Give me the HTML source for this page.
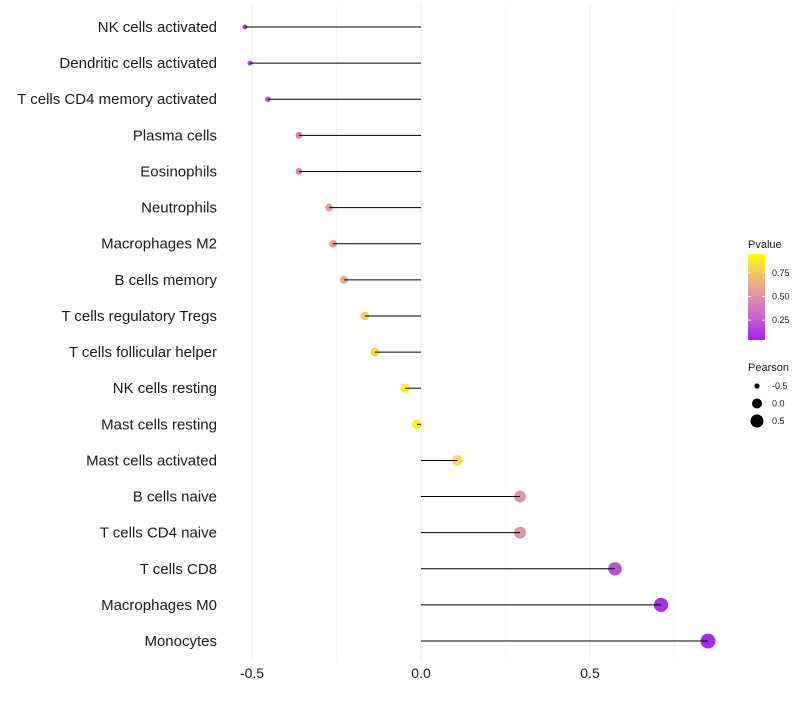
<!DOCTYPE html>
<html><head><meta charset="utf-8"><style>
body{margin:0;background:#fff;font-family:"Liberation Sans",sans-serif}
</style></head><body>
<svg id="chart" width="800" height="700" xmlns="http://www.w3.org/2000/svg"></svg>
<script>
const categories=["NK cells activated","Dendritic cells activated","T cells CD4 memory activated","Plasma cells","Eosinophils","Neutrophils","Macrophages M2","B cells memory","T cells regulatory  Tregs ","T cells follicular helper","NK cells resting","Mast cells resting","Mast cells activated","B cells naive","T cells CD4 naive","T cells CD8","Macrophages M0","Monocytes"];
const pearson=[-0.521,-0.506,-0.453,-0.361,-0.361,-0.272,-0.26,-0.228,-0.166,-0.136,-0.047,-0.012,0.107,0.293,0.293,0.574,0.71,0.849];
const pvalues=[0.12,0.14,0.25,0.45,0.45,0.58,0.58,0.65,0.8,0.85,0.97,0.98,0.87,0.52,0.52,0.18,0.06,0.03];
const xTicks=[-0.5,0,0.5];
const xTickLabels=["-0.5","0.0","0.5"];
const pTicks=[0.25,0.5,0.75];
const sizeLegend=[-0.5,0,0.5];
const NS="http://www.w3.org/2000/svg";
const svg=document.getElementById('chart');
const x=v=>421+v*338;
const y=i=>27+i*36.12;
const r=v=>Math.sqrt(Math.max(2,6+36*(v+0.52)));
const stops=[[0,[160,32,240]],[0.25,[200,96,208]],[0.5,[224,144,168]],[0.75,[240,192,112]],[1,[255,255,0]]];
function col(p){for(let k=1;k<stops.length;k++){if(p<=stops[k][0]){const a=stops[k-1],b=stops[k];const t=(p-a[0])/(b[0]-a[0]);const c=a[1].map((q,j)=>Math.round(q+(b[1][j]-q)*t));return `rgb(${c})`;}}return 'rgb(255,255,0)';}
function el(t,a,txt){const e=document.createElementNS(NS,t);for(const k in a)e.setAttribute(k,a[k]);if(txt!==undefined)e.textContent=txt;svg.appendChild(e);return e;}
[-0.25,0.25,0.75].forEach(v=>{const g=el('line',{x1:x(v),x2:x(v),y1:5,y2:660,stroke:'#f2f2f2','stroke-width':0.6});

});
xTicks.forEach((v,i)=>{const g=el('line',{x1:x(v),x2:x(v),y1:5,y2:660,stroke:'#ebebeb','stroke-width':1.1});


const t=el('text',{x:x(v),y:678,'text-anchor':'middle','font-size':14,fill:'#1a1a1a'},xTickLabels[i]);

});
categories.forEach((c,i)=>{
const t=el('text',{x:217,y:y(i)+5,'text-anchor':'end','font-size':15,fill:'#1a1a1a'},c);


const p=el('circle',{cx:x(pearson[i]),cy:y(i),r:r(pearson[i]),fill:col(pvalues[i])});


const l=el('line',{x1:x(0),x2:x(pearson[i]),y1:y(i),y2:y(i),stroke:'#000','stroke-width':1});


});
const defs=el('defs',{});const lg=document.createElementNS(NS,'linearGradient');lg.setAttribute('id','pg');lg.setAttribute('x1',0);lg.setAttribute('y1',1);lg.setAttribute('x2',0);lg.setAttribute('y2',0);defs.appendChild(lg);
stops.forEach(s=>{const st=document.createElementNS(NS,'stop');st.setAttribute('offset',s[0]);st.setAttribute('stop-color',col(s[0]));lg.appendChild(st);});
const t1=el('text',{x:748,y:248,'font-size':11,fill:'#1a1a1a'},'Pvalue');


const cb=el('rect',{x:748,y:254,width:17,height:86,fill:'url(#pg)'});


const cy=p=>340-(p-0.04)/0.91*86;
pTicks.forEach(p=>{el('line',{x1:748,x2:751,y1:cy(p),y2:cy(p),stroke:'#fff'});el('line',{x1:762,x2:765,y1:cy(p),y2:cy(p),stroke:'#fff'});
const t=el('text',{x:772,y:cy(p)+3,'font-size':9,fill:'#1a1a1a'},p.toFixed(2));

});
const t2=el('text',{x:748,y:371,'font-size':11,fill:'#1a1a1a'},'Pearson');


sizeLegend.forEach((v,i)=>{const yy=386+i*17.5;
const c=el('circle',{cx:757,cy:yy,r:r(v),fill:'#000'});


const t=el('text',{x:772,y:yy+3,'font-size':9,fill:'#1a1a1a'},v===0?'0.0':String(v));

});
</script>
</body></html>
